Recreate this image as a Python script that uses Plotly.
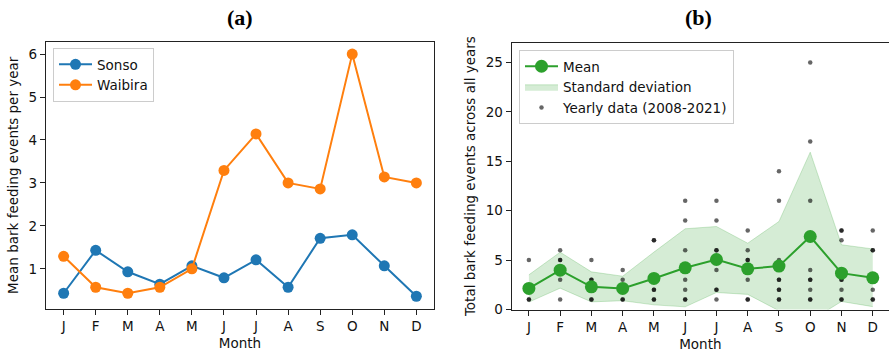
import plotly.graph_objects as go

# Month axis
months = ["J", "F", "M", "A", "M", "J", "J", "A", "S", "O", "N", "D"]
month_idx = list(range(12))

# Panel (a): mean bark feeding events per year, by community
sonso = [0.43, 1.43, 0.93, 0.64, 1.07, 0.79, 1.21, 0.57, 1.71, 1.79, 1.07, 0.36]
waibira = [1.29, 0.57, 0.43, 0.57, 1.00, 3.29, 4.14, 3.00, 2.86, 6.00, 3.14, 3.00]

# Panel (b): totals across all years
total_mean = [2.13, 3.98, 2.29, 2.13, 3.14, 4.22, 5.06, 4.12, 4.39, 7.39, 3.68, 3.21]
total_std = [1.38, 1.82, 1.52, 1.24, 2.67, 3.95, 3.34, 2.59, 4.52, 8.53, 2.87, 2.92]

# Yearly totals (2008-2021), one list per month
yearly_counts = [
    [5, 1, 1],
    [6, 5, 5, 3, 1],
    [5, 3, 3, 1, 1],
    [4, 3, 1, 1],
    [7, 7, 2, 2, 1, 1],
    [11, 9, 6, 3, 2, 1, 1],
    [11, 9, 6, 6, 4, 2, 2, 1],
    [8, 6, 5, 5, 3, 1, 1],
    [14, 11, 5, 3, 3, 2, 2, 1, 1],
    [25, 17, 11, 4, 3, 3, 2, 1, 1],
    [8, 8, 7, 3, 3, 2, 1, 1],
    [8, 6, 6, 2, 1, 1],
]

BLUE = "#1f77b4"
ORANGE = "#ff7f0e"
GREEN = "#2ca02c"
FONT = "DejaVu Sans"
FS = 13.5

W, H = 889, 355


def px_x(p):
    return p / W


def px_y(p):
    return 1 - p / H


fig = go.Figure()

# ---- panel (a)
fig.add_trace(go.Scatter(
    x=month_idx, y=sonso, name="Sonso", mode="lines+markers",
    line=dict(color=BLUE, width=2), marker=dict(size=11, color=BLUE),
    xaxis="x", yaxis="y", legend="legend", cliponaxis=False,
))
fig.add_trace(go.Scatter(
    x=month_idx, y=waibira, name="Waibira", mode="lines+markers",
    line=dict(color=ORANGE, width=2), marker=dict(size=11, color=ORANGE),
    xaxis="x", yaxis="y", legend="legend", cliponaxis=False,
))

# ---- panel (b)
lower = [m - s for m, s in zip(total_mean, total_std)]
upper = [m + s for m, s in zip(total_mean, total_std)]
band_line = dict(color="rgba(44,160,44,0.22)", width=1)
fig.add_trace(go.Scatter(
    x=month_idx, y=lower, mode="lines", line=band_line,
    showlegend=False, hoverinfo="skip", xaxis="x2", yaxis="y2",
))
fig.add_trace(go.Scatter(
    x=month_idx, y=upper, mode="lines", line=band_line,
    fill="tonexty", fillcolor="rgba(44,160,44,0.2)",
    name="Standard deviation", legendrank=2,
    xaxis="x2", yaxis="y2", legend="legend2",
))

yx, yy = [], []
for i, vals in enumerate(yearly_counts):
    for v in vals:
        yx.append(i)
        yy.append(v)
fig.add_trace(go.Scatter(
    x=yx, y=yy, mode="markers", name="Yearly data (2008-2021)",
    marker=dict(size=4.5, color="rgba(0,0,0,0.6)", line=dict(width=0)),
    legendrank=3, xaxis="x2", yaxis="y2", legend="legend2",
))
fig.add_trace(go.Scatter(
    x=month_idx, y=total_mean, name="Mean", mode="lines+markers",
    line=dict(color=GREEN, width=2), marker=dict(size=13, color=GREEN),
    legendrank=1, xaxis="x2", yaxis="y2", legend="legend2", cliponaxis=False,
))

axis_common = dict(
    showline=True, linecolor="#222", linewidth=1.2, mirror=True,
    ticks="outside", ticklen=5, tickwidth=1.2, tickcolor="#222",
    showgrid=False, zeroline=False, automargin=False,
    tickfont=dict(family=FONT, size=FS, color="#111"),
)
xaxis_common = dict(
    axis_common, tickvals=month_idx, ticktext=months,
    title=dict(text="Month", font=dict(family=FONT, size=FS, color="#111"), standoff=5),
)

fig.update_layout(
    width=W, height=H,
    margin=dict(l=0, r=0, t=0, b=0, autoexpand=False),
    paper_bgcolor="white", plot_bgcolor="white",
    font=dict(family=FONT, size=FS, color="#111"),
    xaxis=dict(xaxis_common, domain=[px_x(46), px_x(434)], range=[-0.55, 11.55], anchor="y"),
    yaxis=dict(
        axis_common, domain=[px_y(308.5), px_y(42)], range=[0.075, 6.282],
        tickvals=[1, 2, 3, 4, 5, 6], anchor="x",
        title=dict(text="Mean bark feeding events per year",
                   font=dict(family=FONT, size=FS, color="#111"), standoff=6),
    ),
    xaxis2=dict(xaxis_common, domain=[px_x(511.7), 1.0], range=[-0.55, 11.52], anchor="y2"),
    yaxis2=dict(
        axis_common, domain=[px_y(309.5), px_y(42.7)], range=[0, 27],
        tickvals=[0, 5, 10, 15, 20, 25], anchor="x2",
        title=dict(text="Total bark feeding events across all years",
                   font=dict(family=FONT, size=FS, color="#111"), standoff=6),
    ),
    legend=dict(
        x=px_x(53), y=px_y(48), xanchor="left", yanchor="top",
        bgcolor="rgba(255,255,255,0.8)", bordercolor="#cccccc", borderwidth=1,
        font=dict(family=FONT, size=FS, color="#111"), itemwidth=33,
    ),
    legend2=dict(
        x=px_x(519), y=px_y(50), xanchor="left", yanchor="top",
        bgcolor="rgba(255,255,255,0.8)", bordercolor="#cccccc", borderwidth=1,
        font=dict(family=FONT, size=FS, color="#111"), traceorder="normal",
        itemwidth=33,
    ),
    showlegend=True,
    annotations=[
        dict(text="<b>(a)</b>", x=px_x(240), y=px_y(17), xref="paper", yref="paper",
             xanchor="center", yanchor="middle", showarrow=False,
             font=dict(family="Liberation Serif", size=22, color="black")),
        dict(text="<b>(b)</b>", x=px_x(698), y=px_y(17), xref="paper", yref="paper",
             xanchor="center", yanchor="middle", showarrow=False,
             font=dict(family="Liberation Serif", size=22, color="black")),
    ],
)

fig.write_html("out.html")
